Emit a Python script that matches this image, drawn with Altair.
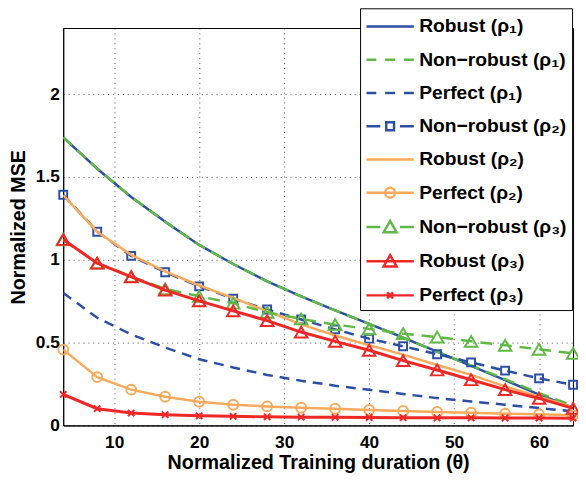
import altair as alt
import pandas as pd

theta = [4, 8, 12, 16, 20, 24, 28, 32, 36, 40, 44, 48, 52, 56, 60, 64]

robust_r1 = [1.74, 1.55, 1.38, 1.23, 1.09, 0.975, 0.87, 0.78, 0.695, 0.613, 0.53, 0.446, 0.36, 0.274, 0.186, 0.107]
nonrobust_r1 = [1.74, 1.55, 1.38, 1.23, 1.09, 0.975, 0.87, 0.78, 0.695, 0.613, 0.53, 0.446, 0.362, 0.28, 0.195, 0.12]
perfect_r1 = [0.80, 0.65, 0.55, 0.47, 0.40, 0.35, 0.305, 0.27, 0.24, 0.215, 0.19, 0.165, 0.145, 0.125, 0.105, 0.085]
nonrobust_r2 = [1.393, 1.17, 1.024, 0.925, 0.84, 0.766, 0.70, 0.64, 0.58, 0.524, 0.478, 0.43, 0.381, 0.331, 0.284, 0.246]
robust_r2 = [1.39, 1.17, 1.03, 0.93, 0.845, 0.77, 0.69, 0.61, 0.543, 0.484, 0.428, 0.365, 0.305, 0.236, 0.173, 0.111]
perfect_r2 = [0.458, 0.292, 0.216, 0.173, 0.143, 0.125, 0.115, 0.107, 0.101, 0.093, 0.087, 0.081, 0.077, 0.071, 0.067, 0.061]
nonrobust_r3 = [1.12, 0.98, 0.90, 0.825, 0.78, 0.738, 0.683, 0.643, 0.609, 0.583, 0.554, 0.534, 0.508, 0.484, 0.46, 0.435]
robust_r3 = [1.123, 0.98, 0.897, 0.817, 0.752, 0.692, 0.633, 0.564, 0.508, 0.454, 0.391, 0.335, 0.276, 0.216, 0.163, 0.103]
perfect_r3 = [0.187, 0.101, 0.075, 0.065, 0.058, 0.055, 0.052, 0.05, 0.049, 0.048, 0.047, 0.046, 0.046, 0.045, 0.045, 0.044]

series_names = [
    "Robust (ρ₁)", "Non−robust (ρ₁)", "Perfect (ρ₁)", "Non−robust (ρ₂)",
    "Robust (ρ₂)", "Perfect (ρ₂)", "Non−robust (ρ₃)", "Robust (ρ₃)", "Perfect (ρ₃)",
]
series_values = [robust_r1, nonrobust_r1, perfect_r1, nonrobust_r2,
                 robust_r2, perfect_r2, nonrobust_r3, robust_r3, perfect_r3]

BLUE = "#2c4fa3"
GREEN = "#5fb944"
ORANGE = "#f8aa5c"
RED = "#ee2727"
series_colors = [BLUE, GREEN, BLUE, BLUE, ORANGE, ORANGE, GREEN, RED, RED]

# style per series: (strokeWidth, dash, marker shape, marker size)
XMARK = "M-1,-1L1,1M-1,1L1,-1"
styles = [
    (2.5, None, None, None),
    (2.5, [12, 7], None, None),
    (2.5, [10, 7], None, None),
    (2.5, [10, 7], "square", 64),
    (2.5, None, None, None),
    (2.5, None, "circle", 100),
    (2.5, [12, 8], "triangle-up", 160),
    (3.0, None, "triangle-up", 160),
    (3.0, None, XMARK, 42),
]

# legend symbols (line + marker glyphs); one unit = 12 px, line spans x -1..3
TRI = "M1,-0.5L1.55,0.45L0.45,0.45Z"
DASH3 = "M-1,0H-0.17M0.58,0H1.42M2.17,0H3"
DASH2 = "M-1,0H0.17M1.83,0H3"
FULL = "M-1,0H3"
legend_paths = [
    FULL,
    DASH3,
    DASH3,
    DASH2 + "M0.67,-0.33H1.33V0.33H0.67Z",
    FULL,
    FULL + "M1.42,0A0.42,0.42,0,1,1,0.58,0A0.42,0.42,0,1,1,1.42,0",
    DASH2 + TRI,
    FULL + TRI,
    FULL + "M0.75,-0.25L1.25,0.25M0.75,0.25L1.25,-0.25",
]

rows = []
for name, vals in zip(series_names, series_values):
    for t, v in zip(theta, vals):
        rows.append({"theta": t, "mse": v, "series": name})
df = pd.DataFrame(rows)

FONT = "Liberation Sans"

x_enc = alt.X("theta:Q", scale=alt.Scale(domain=[4, 64], nice=False, zero=False),
              axis=alt.Axis(values=[10, 20, 30, 40, 50, 60], title="Normalized Training duration (θ)",
                            titleY=44, titleBaseline="alphabetic"))
y_enc = alt.Y("mse:Q", scale=alt.Scale(domain=[0, 2.4], nice=False),
              axis=alt.Axis(values=[0, 0.5, 1, 1.5, 2], format=".2~f", title="Normalized MSE",
                            titleX=-39, titleY=201.5, titleBaseline="alphabetic", titleAngle=270))

layers = []
for i, name in enumerate(series_names):
    sw, dash, shape, msize = styles[i]
    sub = df[df["series"] == name]
    kw = dict(color=series_colors[i], strokeWidth=sw, clip=True)
    if dash:
        kw["strokeDash"] = dash
    layers.append(alt.Chart(sub).mark_line(**kw).encode(x=x_enc, y=y_enc))
    if shape:
        layers.append(
            alt.Chart(sub).mark_point(shape=shape, size=msize, filled=False, color=series_colors[i],
                                      strokeWidth=2, opacity=1).encode(x=x_enc, y=y_enc)
        )

leg = alt.Legend(
    title=None, orient="none", legendX=301, legendY=-20,
    symbolSize=576, symbolStrokeWidth=2.5, labelFont=FONT, labelFontSize=19.5,
    labelFontWeight="bold", labelColor="black", labelLimit=400, labelOffset=28,
    rowPadding=10.7, padding=5, strokeColor="black", fillColor="white",
    cornerRadius=0, symbolOpacity=1, labelBaseline="middle",
)
legend_layer = alt.Chart(df).transform_filter("false").mark_point(filled=False, size=576).encode(
    x=x_enc, y=y_enc,
    color=alt.Color("series:N", scale=alt.Scale(domain=series_names, range=series_colors), legend=leg,
                    sort=series_names),
    shape=alt.Shape("series:N", scale=alt.Scale(domain=series_names, range=legend_paths), legend=leg,
                    sort=series_names),
)
layers.append(legend_layer)

chart = alt.layer(*layers).properties(
    width=517, height=403,
    autosize=alt.AutoSizeParams(type="none"),
    padding={"left": 56, "top": 17, "right": 5, "bottom": 50},
).configure_view(stroke="black", strokeWidth=1).configure_axis(
    labelFont=FONT, labelFontSize=17.5, labelFontWeight="bold", labelColor="black",
    titleFont=FONT, titleFontSize=20, titleFontWeight="bold", titleColor="black",
    domainColor="black", domainWidth=1, ticks=False, labelPadding=8,
    grid=True, gridColor="black", gridDash=[1, 4], gridOpacity=0.7, gridWidth=1,
).configure_axisY(labelPadding=4)

chart.save("out.html", embed_options={"renderer": "svg", "actions": False})
